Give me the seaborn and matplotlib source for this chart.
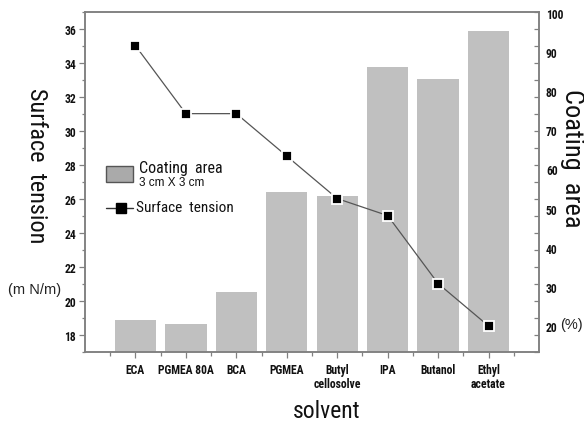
import numpy as np
import pandas as pd
import matplotlib
matplotlib.use("Agg")
import matplotlib.pyplot as plt
from matplotlib import font_manager
from matplotlib.patches import Rectangle
from matplotlib.lines import Line2D
from matplotlib.ticker import FixedLocator, MultipleLocator
import seaborn as sns

# ---- data ----
solvents = ["ECA", "PGMEA 80A", "BCA", "PGMEA", "Butyl\ncellosolve",
            "IPA", "Butanol", "Ethyl\nacetate"]
coating_area = [21.5, 20.5, 28.6, 54.2, 53.3, 86.2, 83.1, 95.4]      # %
surface_tension = [35.0, 31.0, 31.0, 28.5, 26.0, 25.0, 21.0, 18.5]   # mN/m
left_ticks = [18, 20, 22, 24, 26, 28, 30, 32, 34, 36]
right_ticks = [20, 30, 40, 50, 60, 70, 80, 90, 100]

sns.set_theme(style="white")


def find_narrow():
    # returns (family, stretch) of a condensed face if one is installed
    for fam in ("Liberation Sans Narrow", "Roboto Condensed",
                "Open Sans Condensed", "Arial Narrow"):
        try:
            font_manager.findfont(font_manager.FontProperties(family=fam),
                                  fallback_to_default=False)
            return fam, "normal", True
        except Exception:
            pass
    for fam in ("Roboto", "Open Sans", "Noto Sans", "DejaVu Sans"):
        try:
            p = font_manager.findfont(
                font_manager.FontProperties(family=fam, stretch="condensed",
                                            weight="bold"),
                fallback_to_default=False)
            if "ondensed" in p or "arrow" in p:
                return fam, "condensed", True
        except Exception:
            pass
    return "Liberation Sans", "normal", False


NFAM, NSTRETCH, HAVE_NARROW = find_narrow()
plt.rcParams["font.family"] = [NFAM, "DejaVu Sans"]
plt.rcParams["font.stretch"] = NSTRETCH
SANS = "Liberation Sans"
tick_fs = 8.4 if HAVE_NARROW else 7.7
title_fs = 17 if HAVE_NARROW else 16

W, H = 584, 427
fig = plt.figure(figsize=(W / 100, H / 100), dpi=100)
L, R, B, T = 85 / W, 539 / W, 1 - 352.5 / H, 1 - 12.7 / H
ax = fig.add_axes([L, B, R - L, T - B])
ax2 = ax.twinx()

df = pd.DataFrame({"solvent": solvents, "area": coating_area,
                   "tension": surface_tension})
pos = np.arange(len(solvents))

# bars on right axis
sns.barplot(data=df, x="solvent", y="area", ax=ax2, color="#c0c0c0",
            saturation=1, width=0.82, edgecolor="none", linewidth=0)
# line on left axis
sns.lineplot(x=pos, y=df["tension"], ax=ax, color="#555555", linewidth=0.9,
             marker="s", markersize=7, markerfacecolor="black",
             markeredgecolor="white", markeredgewidth=1.3)

ax.set_zorder(ax2.get_zorder() + 1)
ax.patch.set_visible(False)

ax.set_xlim(-1, 8)
ax.set_ylim(17, 37)
r0, r1 = 13.4, 100.4
ax2.set_ylim(r0, r1)

gray = "#808080"
for a in (ax, ax2):
    for s in a.spines.values():
        s.set_color(gray)
        s.set_linewidth(1.1)
        s.set_visible(True)

# x ticks
ax.set_xticks(pos)
ax.set_xticklabels(solvents, fontweight="bold", fontsize=tick_fs,
                   color="#111111", linespacing=1.1)
ax.xaxis.set_minor_locator(FixedLocator(np.arange(-0.5, 8, 1.0)))
ax.tick_params(axis="x", which="major", bottom=True, direction="out",
               length=4.5, width=0.9, color=gray, pad=4)
ax.tick_params(axis="x", which="minor", bottom=True, direction="out",
               length=3, width=0.9, color=gray)

# left y ticks
ax.set_yticks(left_ticks)
ax.set_yticklabels([str(v) for v in left_ticks], fontweight="bold",
                   fontsize=tick_fs, color="#111111")
ax.yaxis.set_minor_locator(MultipleLocator(1))
ax.tick_params(axis="y", which="major", left=True, direction="out",
               length=4.5, width=0.9, color=gray, pad=2)
ax.tick_params(axis="y", which="minor", left=True, direction="out",
               length=2.5, width=0.9, color=gray)
ax.set_xlabel("")
ax.set_ylabel("")

# right y axis: labels, with inward ticks mirrored from left scale
ax2.set_yticks(right_ticks)
ax2.set_yticklabels([str(v) for v in right_ticks], fontweight="bold",
                    fontsize=tick_fs, color="#111111")
mirror = [r0 + (v - 17) * (r1 - r0) / 20 for v in range(17, 38)]
ax2.yaxis.set_minor_locator(FixedLocator(mirror))
ax2.tick_params(axis="y", which="major", right=True, length=0, pad=5)
ax2.tick_params(axis="y", which="minor", right=True, direction="in",
                length=3.5, width=0.9, color=gray)
ax2.set_ylabel("")
ax2.set_xlabel("")
ax.grid(False)
ax2.grid(False)

# axis titles
fig.text(36 / W, 1 - 166 / H, "Surface  tension", rotation=270, ha="center",
         va="center", fontsize=title_fs + 0.5, color="#111111")
fig.text(35 / W, 1 - 290 / H, "(m N/m)", ha="center", va="center",
         fontsize=10.5, color="#222222", family=[SANS])
fig.text(571.5 / W, 1 - 158 / H, "Coating  area", rotation=270, ha="center",
         va="center", fontsize=title_fs + 2, color="#111111")
fig.text(571 / W, 1 - 325 / H, "(%)", ha="center", va="center",
         fontsize=10.5, color="#222222", family=[SANS])
fig.text(327 / W, 1 - 412 / H, "solvent", ha="center", va="center",
         fontsize=title_fs, color="#111111")

# legend drawn by hand
leg_fs = 11 if HAVE_NARROW else 10.5
fig.patches.append(Rectangle((106 / W, 1 - 182.5 / H), 27 / W, 16 / H,
                             transform=fig.transFigure, facecolor="#aaaaaa",
                             edgecolor="#555555", linewidth=1.0))
fig.text(139 / W, 1 - 169 / H, "Coating  area", ha="left", va="center",
         fontsize=leg_fs + 0.5, color="#111111")
fig.text(139 / W, 1 - 183.5 / H, "3 cm X 3 cm", ha="left", va="center",
         fontsize=8.5, color="#111111", family=[SANS])
fig.lines.append(Line2D([106 / W, 133 / W], [1 - 208.5 / H, 1 - 208.5 / H],
                        transform=fig.transFigure, color="#333333",
                        linewidth=1.0, marker=None))
fig.lines.append(Line2D([120.5 / W], [1 - 208.5 / H], transform=fig.transFigure,
                        marker="s", markersize=6.5, color="black",
                        linestyle="none"))
fig.text(136 / W, 1 - 208 / H, "Surface  tension", ha="left", va="center",
         fontsize=leg_fs, color="#111111")

fig.savefig("out.png", dpi=100)
